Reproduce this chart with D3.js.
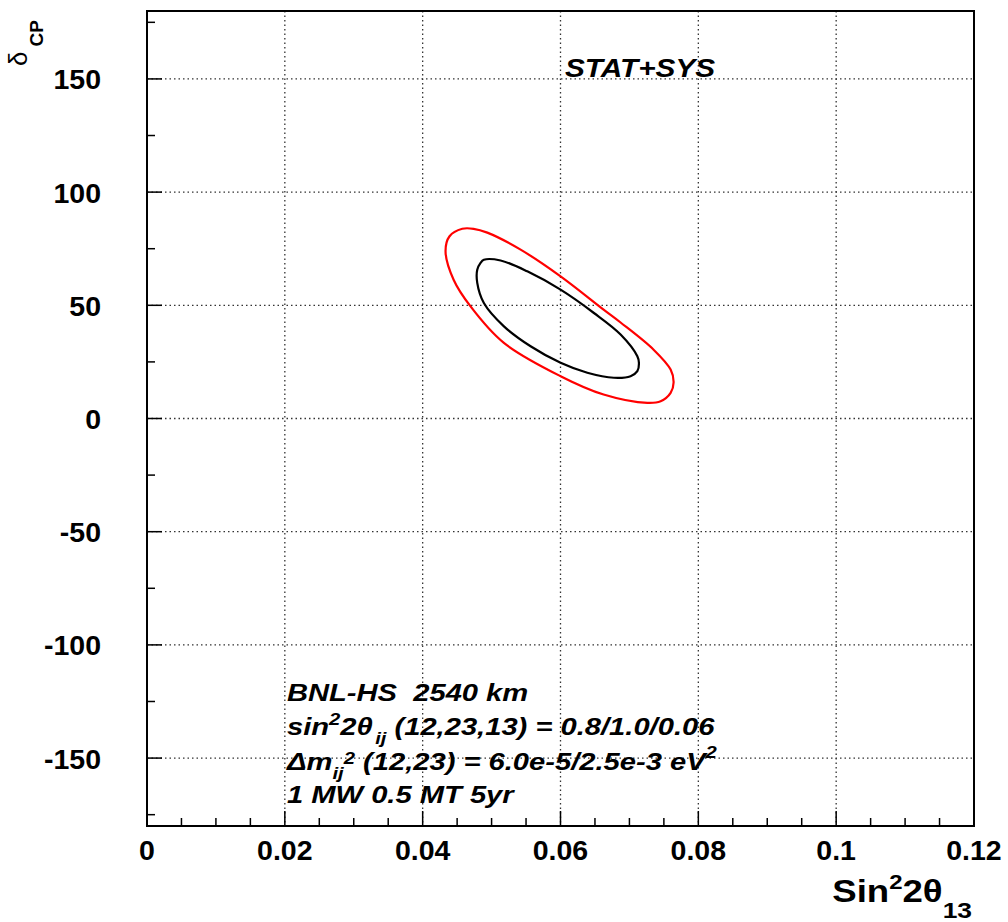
<!DOCTYPE html>
<html>
<head>
<meta charset="utf-8">
<script src="https://cdn.jsdelivr.net/npm/d3@7"></script>
<style>
  html, body { margin: 0; padding: 0; background: #fff; }
  svg { display: block; }
  text { font-family: "Liberation Sans", Arial, Helvetica, sans-serif; font-weight: bold; fill: #000; white-space: pre; }
</style>
</head>
<body>
<svg id="chart" width="1008" height="922"></svg>
<script>
// Axis ranges and tick values
const xDomain = [0, 0.12];
const yDomain = [-180, 180];
const xMajorTicks = [0, 0.02, 0.04, 0.06, 0.08, 0.1, 0.12];
const xTickLabels = ["0", "0.02", "0.04", "0.06", "0.08", "0.1", "0.12"];
const yMajorTicks = [-150, -100, -50, 0, 50, 100, 150];
const yTickLabels = ["-150", "-100", "-50", "0", "50", "100", "150"];
const xMinorStep = 0.005;
const yMinorStep = 25;

// Allowed-region contours in (sin^2 2theta13, deltaCP)
const contourOuterX = [0.04575, 0.04739, 0.04938, 0.05421, 0.06001, 0.06625, 0.06872, 0.07351, 0.07598, 0.07641, 0.07598, 0.07453, 0.0726, 0.06625, 0.06001, 0.05174, 0.04695, 0.04449, 0.04332, 0.04390];
const contourOuterY = [83.8, 83.8, 82.1, 74.6, 62.8, 48.1, 42.4, 30.4, 21.6, 15.9, 11.3, 7.6, 6.9, 10.6, 18.7, 33.5, 49.5, 61.3, 73.8, 80.5];
const contourInnerX = [0.04888, 0.05131, 0.05518, 0.06001, 0.06485, 0.06872, 0.07115, 0.07138, 0.07115, 0.07017, 0.06775, 0.06389, 0.06001, 0.05566, 0.05179, 0.04888, 0.04792, 0.04792, 0.0484];
const contourInnerY = [70.1, 69.8, 65.0, 56.9, 46.6, 37.1, 27.5, 24.6, 20.9, 18.7, 18.0, 20.2, 24.6, 31.9, 40.7, 51.0, 59.9, 65.7, 68.7];

const svg = d3.select("#chart");
const frame = { left: 147, right: 974, top: 11, bottom: 826 };

const x = d3.scaleLinear().domain(xDomain).range([frame.left, frame.right]);
const y = d3.scaleLinear().domain(yDomain).range([frame.bottom, frame.top]);

svg.append("rect").attr("width", 1008).attr("height", 922).attr("fill", "#fff");

// Dotted grid
const grid = svg.append("g").attr("stroke", "#333").attr("stroke-width", 1.3).attr("stroke-dasharray", "1.5,3");
grid.selectAll("line.gx").data(xMajorTicks.filter(v => v > xDomain[0] && v < xDomain[1]))
  .join("line").attr("x1", d => x(d)).attr("x2", d => x(d))
  .attr("y1", frame.top).attr("y2", frame.bottom);
grid.selectAll("line.gy").data(yMajorTicks)
  .join("line").attr("y1", d => y(d)).attr("y2", d => y(d))
  .attr("x1", frame.left).attr("x2", frame.right);

// Contours
function contourPoints(xs, ys) { return xs.map((v, i) => [v, ys[i]]); }
const line = d3.line().x(d => x(d[0])).y(d => y(d[1])).curve(d3.curveCatmullRomClosed.alpha(0.5));
svg.append("path").attr("d", line(contourPoints(contourOuterX, contourOuterY)))
  .attr("fill", "none").attr("stroke", "#ff0000").attr("stroke-width", 2.2);
svg.append("path").attr("d", line(contourPoints(contourInnerX, contourInnerY)))
  .attr("fill", "none").attr("stroke", "#000").attr("stroke-width", 2.2);

// Frame
svg.append("rect").attr("x", frame.left).attr("y", frame.top)
  .attr("width", frame.right - frame.left).attr("height", frame.bottom - frame.top)
  .attr("fill", "none").attr("stroke", "#000").attr("stroke-width", 2);

// Ticks (pointing inward on left and bottom axes)
const xMinor = d3.range(xDomain[0], xDomain[1] + 1e-9, xMinorStep);
const yMinor = d3.range(yDomain[0] + 5, yDomain[1], yMinorStep);
const ticks = svg.append("g").attr("stroke", "#000").attr("stroke-width", 1.5);
ticks.selectAll("line.xt").data(xMinor).join("line")
  .attr("x1", d => x(d)).attr("x2", d => x(d))
  .attr("y1", frame.bottom)
  .attr("y2", d => frame.bottom - (Math.abs(d / 0.02 - Math.round(d / 0.02)) < 1e-6 ? 15 : 8));
ticks.selectAll("line.yt").data(yMinor).join("line")
  .attr("y1", d => y(d)).attr("y2", d => y(d))
  .attr("x1", frame.left)
  .attr("x2", d => frame.left + (d % 50 === 0 ? 15 : 8));

// Tick labels
svg.append("g").selectAll("text").data(xMajorTicks).join("text")
  .attr("x", d => x(d)).attr("y", 860).attr("text-anchor", "middle")
  .attr("font-size", 28.5).text((d, i) => xTickLabels[i]);
svg.append("g").selectAll("text").data(yMajorTicks).join("text")
  .attr("x", 101).attr("y", d => y(d) + 10.5).attr("text-anchor", "end")
  .attr("font-size", 28.5).text((d, i) => yTickLabels[i]);

// X axis title
const xt = svg.append("text").attr("transform", "translate(972,902) scale(1.2,1)")
  .attr("text-anchor", "end").attr("font-size", 30.5);
xt.append("tspan").text("Sin");
xt.append("tspan").attr("font-size", 20).attr("dy", -13).text("2");
xt.append("tspan").attr("dy", 13).text("2θ");
xt.append("tspan").attr("font-size", 22).attr("dy", 16).text("13");

// Y axis title
const yt = svg.append("text").attr("transform", "translate(27,66) rotate(-90)").attr("font-size", 26);
yt.append("tspan").attr("font-weight", "normal").text("δ");
yt.append("tspan").attr("font-size", 19).attr("dx", 5).attr("dy", 16).text("CP");

// Annotations (bold italic)
const italicScale = 1.19;
svg.append("text").attr("transform", `translate(565,77) scale(${italicScale},1)`)
  .attr("font-size", 25).attr("font-style", "italic").text("STAT+SYS");

const info = svg.append("g").attr("transform", `translate(287,0) scale(${italicScale},1)`)
  .attr("font-size", 24.5).attr("font-style", "italic");
info.append("text").attr("x", 0).attr("y", 701).text("BNL-HS  2540 km");
const l2 = info.append("text").attr("x", 0).attr("y", 735);
l2.append("tspan").text("sin");
l2.append("tspan").attr("font-size", 17).attr("dy", -10).text("2");
l2.append("tspan").attr("dy", 10).text("2θ");
l2.append("tspan").attr("font-size", 17).attr("dy", 9).attr("dx", 2).text("ij");
l2.append("tspan").attr("dy", -9).text(" (12,23,13) = 0.8/1.0/0.06");
const l3 = info.append("text").attr("x", 0).attr("y", 770);
l3.append("tspan").text("Δm");
l3.append("tspan").attr("font-size", 17).attr("dy", 9).text("ij");
l3.append("tspan").attr("font-size", 17).attr("dy", -15).text("2");
l3.append("tspan").attr("dy", 6).text(" (12,23) = 6.0e-5/2.5e-3 eV");
l3.append("tspan").attr("font-size", 17).attr("dy", -12).text("2");
info.append("text").attr("x", 0).attr("y", 803).text("1 MW 0.5 MT 5yr");
</script>
</body>
</html>
